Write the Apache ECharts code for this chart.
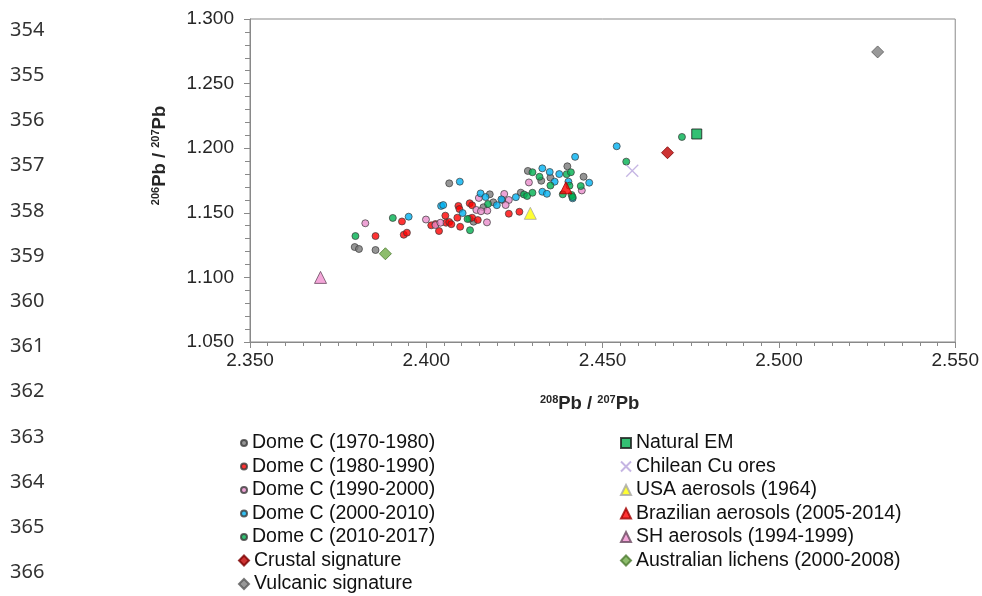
<!DOCTYPE html>
<html>
<head>
<meta charset="utf-8">
<script src="https://cdn.jsdelivr.net/npm/echarts@6/dist/echarts.min.js"></script>
<style>
html,body{margin:0;padding:0;background:#fff;}
#chart{width:982px;height:596px;}
</style>
</head>
<body>
<div id="chart"></div>
<script>
// ---- spreadsheet row numbers shown at the left ----
const rowNumbers = ['354','355','356','357','358','359','360','361','362','363','364','365','366'];

// ---- axis settings ----
const xMin = 2.35, xMax = 2.55, xStep = 0.05;
const yMin = 1.05, yMax = 1.30, yStep = 0.05;

// ---- Dome C samples [208Pb/207Pb, 206Pb/207Pb] ----
const domeC_1970_1980 = [
  [2.3797,1.1235],[2.3809,1.1220],[2.3856,1.1212],[2.4065,1.1728],[2.4180,1.1643],
  [2.4162,1.1543],[2.4134,1.1431],[2.4122,1.1454],[2.4288,1.1824],[2.4400,1.1860],
  [2.4326,1.1748],[2.4352,1.1772],[2.4446,1.1779],[2.4268,1.1656],[2.4190,1.1581],
  [2.4216,1.1599]
];
const domeC_1980_1990 = [
  [2.3856,1.1320],[2.3931,1.1433],[2.3936,1.1330],[2.3945,1.1346],[2.4014,1.1403],
  [2.4026,1.1413],[2.4054,1.1478],[2.4056,1.1423],[2.4065,1.1429],[2.4071,1.1412],
  [2.4088,1.1462],[2.4036,1.1359],[2.4091,1.1553],[2.4094,1.1529],[2.4096,1.1392],
  [2.4123,1.1574],[2.4130,1.1558],[2.4130,1.1462],[2.4146,1.1444],[2.4234,1.1493],
  [2.4264,1.1508]
];
const domeC_1990_2000 = [
  [2.3827,1.1419],[2.3999,1.1448],[2.4026,1.1405],[2.4040,1.1423],[2.4172,1.1426],
  [2.4149,1.1615],[2.4221,1.1646],[2.4234,1.1599],[2.4142,1.1522],[2.4173,1.1516],
  [2.4155,1.1512],[2.4225,1.1560],[2.4291,1.1735],[2.4441,1.1673]
];
const domeC_2000_2010 = [
  [2.3950,1.1470],[2.4042,1.1553],[2.4048,1.1560],[2.4095,1.1741],[2.4103,1.1498],
  [2.4154,1.1650],[2.4168,1.1622],[2.4200,1.1559],[2.4213,1.1604],[2.4254,1.1621],
  [2.4329,1.1844],[2.4350,1.1816],[2.4377,1.1800],[2.4364,1.1741],[2.4403,1.1741],
  [2.4329,1.1663],[2.4342,1.1647],[2.4422,1.1933],[2.4462,1.1733],[2.4540,1.2015],
  [2.4415,1.1612]
];
const domeC_2010_2017 = [
  [2.3799,1.1320],[2.3905,1.1460],[2.4117,1.1452],[2.4124,1.1365],[2.4175,1.1568],
  [2.4277,1.1642],[2.4286,1.1630],[2.4301,1.1655],[2.4301,1.1814],[2.4321,1.1779],
  [2.4352,1.1711],[2.4398,1.1799],[2.4410,1.1814],[2.4406,1.1710],[2.4387,1.1643],
  [2.4412,1.1638],[2.4415,1.1622],[2.4438,1.1707],[2.4567,1.1896],[2.4725,1.2087]
];

// ---- reference end-members ----
const crustalSignature = [[2.4684,1.1965]];
const vulcanicSignature = [[2.5280,1.2745]];
const naturalEM = [[2.4767,1.2110]];
const chileanCuOres = [[2.4584,1.1826]];
const usaAerosols1964 = [[2.4295,1.1496]];
const brazilianAerosols = [[2.4396,1.1694]];
const shAerosols = [[2.3700,1.1000]];
const australianLichens = [[2.3884,1.1183]];

const chart = echarts.init(document.getElementById('chart'), null, {renderer:'canvas'});
const FONT = '"Liberation Sans", Arial, sans-serif';
const TXT = '#262626';
const AX = '#898989';

function dome(name, data, color){
  return {name, type:'scatter', data, symbol:'circle', symbolSize:7,
    itemStyle:{color, borderColor:'#3a3a3a', borderWidth:0.9}};
}
function special(name, data, symbol, size, color, border){
  return {name, type:'scatter', data, symbol, symbolSize:size, z:3,
    itemStyle:{color, borderColor:border, borderWidth:1}};
}

const richTitle = {
  b:{fontSize:18.5, fontWeight:'bold', fontFamily:FONT, color:TXT, lineHeight:20},
  s:{fontSize:11, fontWeight:'bold', fontFamily:FONT, color:TXT, verticalAlign:'top', lineHeight:20}
};

const legendText = {fontSize:19.5, fontFamily:FONT, color:'#111', lineHeight:20};

const option = {
  animation:false,
  backgroundColor:'#fff',
  grid:{left:250, right:24, top:19, bottom:254, show:true, borderColor:AX, borderWidth:1, backgroundColor:'transparent'},
  xAxis:{
    type:'value', min:xMin, max:xMax, interval:xStep,
    axisLine:{show:true, onZero:false, lineStyle:{color:AX, width:1}},
    axisTick:{show:true, length:6, lineStyle:{color:AX}},
    minorTick:{show:true, splitNumber:10, length:4, lineStyle:{color:AX}},
    splitLine:{show:false},
    axisLabel:{formatter:v=>v.toFixed(3), fontSize:19, fontFamily:FONT, color:TXT, margin:9},
    name:'{s|208}{b|Pb / }{s|207}{b|Pb}', nameLocation:'middle', nameGap:52,
    nameTextStyle:{rich:richTitle, padding:[0,26,0,0]}
  },
  yAxis:{
    type:'value', min:yMin, max:yMax, interval:yStep,
    axisLine:{show:true, onZero:false, lineStyle:{color:AX, width:1}},
    axisTick:{show:true, length:6, lineStyle:{color:AX}},
    minorTick:{show:true, splitNumber:5, length:5, lineStyle:{color:AX}},
    splitLine:{show:false},
    axisLabel:{formatter:v=>v.toFixed(3), fontSize:19, fontFamily:FONT, color:TXT, margin:16},
    name:'{s|206}{b|Pb / }{s|207}{b|Pb}', nameLocation:'middle', nameGap:80, nameRotate:90,
    nameTextStyle:{rich:richTitle, padding:[0,0,0,50]}
  },
  legend:[
    {data:['Dome C (1970-1980)','Dome C (1980-1990)','Dome C (1990-2000)','Dome C (2000-2010)','Dome C (2010-2017)'],
     orient:'vertical', left:240, top:433, padding:0, itemGap:3.5, itemWidth:6, itemHeight:6,
     icon:'circle', textStyle:legendText, selectedMode:false},
    {data:['Crustal signature','Vulcanic signature'],
     orient:'vertical', left:238, top:550.5, padding:0, itemGap:3.5, itemWidth:10, itemHeight:10,
     textStyle:legendText, selectedMode:false},
    {data:['Natural EM','Chilean Cu ores','USA aerosols (1964)','Brazilian aerosols (2005-2014)','SH aerosols (1994-1999)','Australian lichens (2000-2008)'],
     orient:'vertical', left:620, top:433, padding:0, itemGap:3.5, itemWidth:10, itemHeight:10,
     textStyle:legendText, selectedMode:false}
  ],
  graphic: rowNumbers.map((t,i)=>({
    type:'text', left:10, top:20 + i*45.2,
    style:{text:t, fontSize:20, fontFamily:'"Noto Sans", "Open Sans", sans-serif', fill:'#333'}
  })),
  series:[
    dome('Dome C (1970-1980)', domeC_1970_1980, '#7a7a7a'),
    dome('Dome C (1980-1990)', domeC_1980_1990, '#ff0000'),
    dome('Dome C (1990-2000)', domeC_1990_2000, '#e98ccb'),
    dome('Dome C (2000-2010)', domeC_2000_2010, '#00b0f0'),
    dome('Dome C (2010-2017)', domeC_2010_2017, '#00b050'),
    special('Crustal signature', crustalSignature, 'diamond', 12, '#c00000', '#7a0000'),
    special('Vulcanic signature', vulcanicSignature, 'diamond', 12, '#7f7f7f', '#595959'),
    special('Natural EM', naturalEM, 'rect', 10, '#00b050', '#1a1a1a'),
    {name:'Chilean Cu ores', type:'scatter', data:chileanCuOres, z:3,
      symbol:'path://M0,0L10,10M10,0L0,10', symbolSize:12,
      itemStyle:{color:'rgba(0,0,0,0)', borderColor:'#b6a2dc', borderWidth:1.3}},
    special('USA aerosols (1964)', usaAerosols1964, 'triangle', 12, '#ffff00', '#a6a6a6'),
    special('Brazilian aerosols (2005-2014)', brazilianAerosols, 'triangle', 12, '#ff0000', '#a00000'),
    special('SH aerosols (1994-1999)', shAerosols, 'triangle', 12, '#f190d0', '#6a4a60'),
    special('Australian lichens (2000-2008)', australianLichens, 'diamond', 12, '#70ad47', '#4e7a31')
  ]
};
chart.setOption(option);
</script>
</body>
</html>
